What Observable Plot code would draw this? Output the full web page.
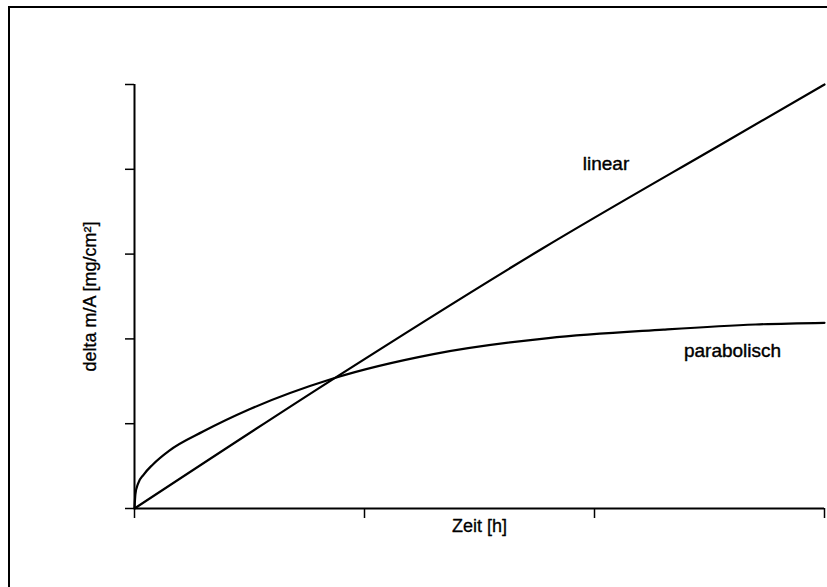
<!DOCTYPE html>
<html>
<head>
<meta charset="utf-8">
<script src="https://cdn.jsdelivr.net/npm/d3@7"></script>
<script src="https://cdn.jsdelivr.net/npm/@observablehq/plot@0.6"></script>
<style>
  html, body { margin: 0; padding: 0; background: #fff; }
  #wrap { position: relative; width: 827px; height: 587px; overflow: hidden; }
  #border { position: absolute; left: 8px; top: 6px; right: -4px; bottom: -4px;
            border-left: 2px solid #000; border-top: 2px solid #000; pointer-events: none; }
  svg { display: block; }
</style>
</head>
<body>
<div id="wrap"><div id="border"></div></div>
<script>
// Data (x: Zeit [h] in tick units, y: delta m/A in tick units)
const linearX = [0, 0.86, 1.77, 2.58, 3.0];
const linearY = [0, 1.52, 3.06, 4.34, 5.0];
const paraX = [0, 0.004, 0.015, 0.04, 0.08, 0.15, 0.3, 0.5, 0.86, 1.3, 1.8, 2.3, 2.7, 3.0];
const paraY = [0, 0.17, 0.29, 0.40, 0.52, 0.68, 0.91, 1.17, 1.53, 1.82, 2.01, 2.11, 2.17, 2.19];
const xTicks = [0, 1, 2, 3];
const yTicks = [0, 1, 2, 3, 4, 5];
const seriesLabels = ["linear", "parabolisch"];
const labelX = [2.05, 2.6];
const labelY = [4.06, 1.86];
const xTitle = "Zeit [h]";
const yTitle = "delta m/A [mg/cm²]";

const linear = linearX.map((x, i) => ({x, y: linearY[i]}));
const para = paraX.map((x, i) => ({x, y: paraY[i]}));
const labels = seriesLabels.map((t, i) => ({t, x: labelX[i], y: labelY[i]}));

const chart = Plot.plot({
  width: 827,
  height: 587,
  marginLeft: 134,
  marginRight: 3,
  marginTop: 84,
  marginBottom: 79,
  style: {fontFamily: "Liberation Sans, Arial, sans-serif", background: "transparent", color: "#000"},
  x: {domain: [0, 3]},
  y: {domain: [0, 5]},
  marks: [
    Plot.axisX({ticks: xTicks, tickSize: 10, tickFormat: () => "", label: null, strokeWidth: 1.5}),
    Plot.axisY({ticks: yTicks, tickSize: 9, tickFormat: () => "", label: null, strokeWidth: 1.5}),
    Plot.ruleY([0], {x1: 0, x2: 3, strokeWidth: 2}),
    Plot.ruleX([0], {y1: 0, y2: 5, strokeWidth: 2}),
    Plot.line(linear, {x: "x", y: "y", strokeWidth: 2.2, stroke: "#000", curve: "monotone-x"}),
    Plot.line(para, {x: "x", y: "y", strokeWidth: 2.2, stroke: "#000", curve: "monotone-x"}),
    Plot.text(labels, {x: "x", y: "y", text: "t", fontSize: 19, fill: "#000", stroke: "#000", strokeWidth: 0.4}),
    Plot.text([xTitle], {frameAnchor: "bottom", dy: 18, lineAnchor: "middle", fontSize: 18, fill: "#000", stroke: "#000", strokeWidth: 0.3}),
    Plot.text([yTitle], {frameAnchor: "left", dx: -44, rotate: -90, textAnchor: "middle", lineAnchor: "middle", fontSize: 18, fill: "#000", stroke: "#000", strokeWidth: 0.3})
  ]
});
document.getElementById("wrap").prepend(chart);
</script>
</body>
</html>
